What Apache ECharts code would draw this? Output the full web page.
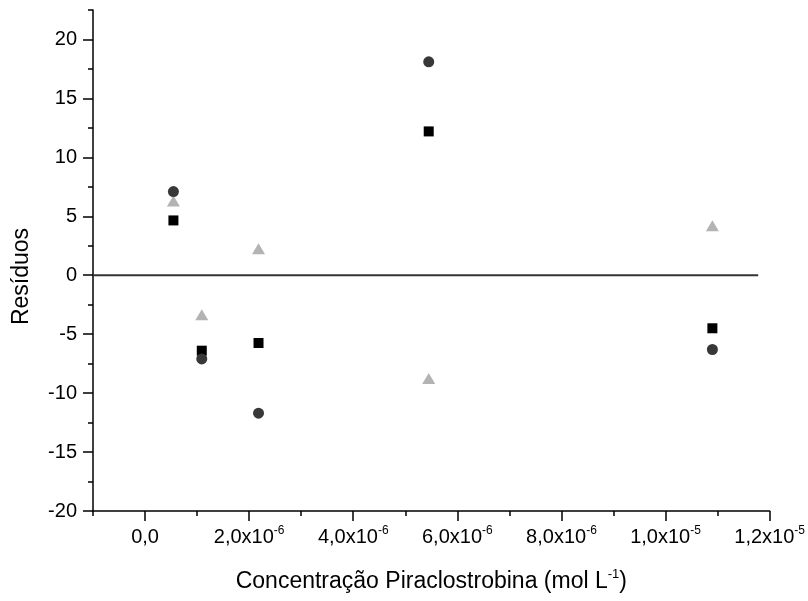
<!DOCTYPE html>
<html><head><meta charset="utf-8">
<script src="https://cdn.jsdelivr.net/npm/echarts@6/dist/echarts.min.js"></script>
<style>html,body{margin:0;padding:0;background:#fff}#c{width:808px;height:601px}</style>
</head><body><div id="c"></div>
<script>
// Data
const concentrations = [5.45e-7, 1.09e-6, 2.18e-6, 5.45e-6, 1.09e-5];
const residCircle   = [7.1, -7.1, -11.7, 18.1, -6.3];
const residSquare   = [4.65, -6.4, -5.75, 12.2, -4.5];
const residTriangle = [6.3, -3.35, 2.25, -8.75, 4.2];
const zeroLineX = [-1e-6, 1.178e-5];
const yMajorTicks = [-20, -15, -10, -5, 0, 5, 10, 15, 20];
const xMajorTicks = [0, 2e-6, 4e-6, 6e-6, 8e-6, 1e-5, 1.2e-5];
const xTickLabels = ['0,0', '2,0x10{sup|-6}', '4,0x10{sup|-6}', '6,0x10{sup|-6}', '8,0x10{sup|-6}', '1,0x10{sup|-5}', '1,2x10{sup|-5}'];

const FONT = 'Liberation Sans, Arial, sans-serif';

function pairs(xs, ys) { return xs.map((x, i) => [x, ys[i]]); }
function xLabel(v) {
  const n = Math.round(v * 1e7);
  for (let i = 0; i < xMajorTicks.length; i++) {
    if (Math.round(xMajorTicks[i] * 1e7) === n) return xTickLabels[i];
  }
  return '';
}

const chart = echarts.init(document.getElementById('c'), null, { renderer: 'canvas' });
const axisLine = { show: true, onZero: false, lineStyle: { color: '#000', width: 1.5 } };
chart.setOption({
  animation: false,
  backgroundColor: '#fff',
  grid: { left: 93, right: 38, top: 10, bottom: 88, containLabel: false },
  xAxis: [{
    type: 'value', min: -1e-6, max: 1.2e-5, interval: 1e-6,
    axisLine: axisLine,
    axisTick: { show: true, inside: false, length: 5, lineStyle: { color: '#000', width: 1.5 } },
    splitLine: { show: false },
    axisLabel: { formatter: xLabel, fontSize: 20, fontFamily: FONT, color: '#000', margin: 14, lineHeight: 24,
      rich: { sup: { fontSize: 12, verticalAlign: 'top', lineHeight: 24, fontFamily: FONT, color: '#000' } } },
    name: 'Concentração Piraclostrobina (mol L{sup|-1})',
    nameLocation: 'middle', nameGap: 57,
    nameTextStyle: { fontSize: 23, fontFamily: FONT, color: '#000', lineHeight: 28,
      rich: { sup: { fontSize: 13, verticalAlign: 'top', lineHeight: 28, fontFamily: FONT, color: '#000' } } }
  }, {
    type: 'value', min: -1e-6, max: 1.2e-5, position: 'bottom',
    axisLine: { show: false, onZero: false },
    axisTick: { show: true, length: 10, customValues: xMajorTicks, lineStyle: { color: '#000', width: 1.5 } },
    axisLabel: { show: false }, splitLine: { show: false }
  }],
  yAxis: [{
    type: 'value', min: -20, max: 22.5, interval: 2.5,
    axisLine: axisLine,
    axisTick: { show: true, length: 5, lineStyle: { color: '#000', width: 1.5 } },
    splitLine: { show: false },
    axisLabel: {
      formatter: v => (Math.abs(v % 5) < 1e-9 ? String(v) : ''),
      fontSize: 20, fontFamily: FONT, color: '#000', margin: 16
    },
    name: 'Resíduos', nameLocation: 'middle', nameGap: 60, nameRotate: 90,
    nameTextStyle: { fontSize: 23, fontFamily: FONT, color: '#000', padding: [0, 32, 0, 0] }
  }, {
    type: 'value', min: -20, max: 22.5, position: 'left',
    axisLine: { show: false, onZero: false },
    axisTick: { show: true, length: 10, customValues: yMajorTicks, lineStyle: { color: '#000', width: 1.5 } },
    axisLabel: { show: false }, splitLine: { show: false }
  }],
  series: [
    { type: 'line', data: zeroLineX.map(x => [x, 0]), symbol: 'none', silent: true,
      lineStyle: { color: '#333', width: 1.8 }, z: 1 },
    { type: 'scatter', data: pairs(concentrations, residSquare), symbol: 'rect', symbolSize: 10,
      itemStyle: { color: '#000', opacity: 1 }, z: 3 },
    { type: 'scatter', data: pairs(concentrations, residTriangle), symbol: 'triangle', symbolSize: [13, 11],
      itemStyle: { color: '#b3b3b3', opacity: 1 }, z: 2 },
    { type: 'scatter', data: pairs(concentrations, residCircle), symbol: 'circle', symbolSize: 11,
      itemStyle: { color: '#383838', opacity: 1 }, z: 4 }
  ]
});
</script></body></html>
